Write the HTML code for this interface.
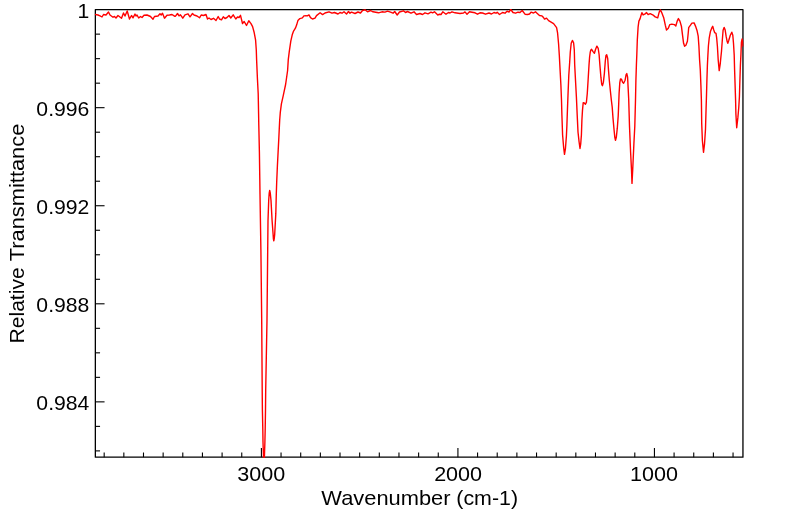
<!DOCTYPE html>
<html>
<head>
<meta charset="utf-8">
<title>IR Spectrum</title>
<style>
html,body{margin:0;padding:0;background:#ffffff;}
body{width:799px;height:516px;overflow:hidden;position:relative;font-family:"Liberation Sans",sans-serif;}
svg{position:absolute;left:0;top:0;display:block;}
text{font-family:"Liberation Sans",sans-serif;fill:#000000;}
</style>
</head>
<body>
<svg width="799" height="516" viewBox="0 0 799 516">
<rect x="0" y="0" width="799" height="516" fill="#ffffff"/>
<defs><clipPath id="plot"><rect x="94.75" y="9.02" width="648.8" height="448.8"/></clipPath></defs>
<g stroke="#000000" stroke-width="1.1" fill="none">
<line x1="104.18" y1="457.2" x2="104.18" y2="452.5"/>
<line x1="123.84" y1="457.2" x2="123.84" y2="452.5"/>
<line x1="143.49" y1="457.2" x2="143.49" y2="452.5"/>
<line x1="163.14" y1="457.2" x2="163.14" y2="452.5"/>
<line x1="182.79" y1="457.2" x2="182.79" y2="452.5"/>
<line x1="202.44" y1="457.2" x2="202.44" y2="452.5"/>
<line x1="222.10" y1="457.2" x2="222.10" y2="452.5"/>
<line x1="241.75" y1="457.2" x2="241.75" y2="452.5"/>
<line x1="261.40" y1="457.2" x2="261.40" y2="448.0"/>
<line x1="281.05" y1="457.2" x2="281.05" y2="452.5"/>
<line x1="300.70" y1="457.2" x2="300.70" y2="452.5"/>
<line x1="320.36" y1="457.2" x2="320.36" y2="452.5"/>
<line x1="340.01" y1="457.2" x2="340.01" y2="452.5"/>
<line x1="359.66" y1="457.2" x2="359.66" y2="452.5"/>
<line x1="379.31" y1="457.2" x2="379.31" y2="452.5"/>
<line x1="398.96" y1="457.2" x2="398.96" y2="452.5"/>
<line x1="418.62" y1="457.2" x2="418.62" y2="452.5"/>
<line x1="438.27" y1="457.2" x2="438.27" y2="452.5"/>
<line x1="457.92" y1="457.2" x2="457.92" y2="448.0"/>
<line x1="477.57" y1="457.2" x2="477.57" y2="452.5"/>
<line x1="497.22" y1="457.2" x2="497.22" y2="452.5"/>
<line x1="516.88" y1="457.2" x2="516.88" y2="452.5"/>
<line x1="536.53" y1="457.2" x2="536.53" y2="452.5"/>
<line x1="556.18" y1="457.2" x2="556.18" y2="452.5"/>
<line x1="575.83" y1="457.2" x2="575.83" y2="452.5"/>
<line x1="595.48" y1="457.2" x2="595.48" y2="452.5"/>
<line x1="615.14" y1="457.2" x2="615.14" y2="452.5"/>
<line x1="634.79" y1="457.2" x2="634.79" y2="452.5"/>
<line x1="654.44" y1="457.2" x2="654.44" y2="448.0"/>
<line x1="674.09" y1="457.2" x2="674.09" y2="452.5"/>
<line x1="693.74" y1="457.2" x2="693.74" y2="452.5"/>
<line x1="713.40" y1="457.2" x2="713.40" y2="452.5"/>
<line x1="733.05" y1="457.2" x2="733.05" y2="452.5"/>
<line x1="95.35" y1="34.14" x2="100.05" y2="34.14"/>
<line x1="95.35" y1="58.65" x2="100.05" y2="58.65"/>
<line x1="95.35" y1="83.17" x2="100.05" y2="83.17"/>
<line x1="95.35" y1="107.68" x2="104.55" y2="107.68"/>
<line x1="95.35" y1="132.20" x2="100.05" y2="132.20"/>
<line x1="95.35" y1="156.71" x2="100.05" y2="156.71"/>
<line x1="95.35" y1="181.23" x2="100.05" y2="181.23"/>
<line x1="95.35" y1="205.74" x2="104.55" y2="205.74"/>
<line x1="95.35" y1="230.26" x2="100.05" y2="230.26"/>
<line x1="95.35" y1="254.77" x2="100.05" y2="254.77"/>
<line x1="95.35" y1="279.29" x2="100.05" y2="279.29"/>
<line x1="95.35" y1="303.80" x2="104.55" y2="303.80"/>
<line x1="95.35" y1="328.32" x2="100.05" y2="328.32"/>
<line x1="95.35" y1="352.83" x2="100.05" y2="352.83"/>
<line x1="95.35" y1="377.35" x2="100.05" y2="377.35"/>
<line x1="95.35" y1="401.86" x2="104.55" y2="401.86"/>
<line x1="95.35" y1="426.38" x2="100.05" y2="426.38"/>
<line x1="95.35" y1="450.89" x2="100.05" y2="450.89"/>
</g>
<rect x="95.35" y="9.62" width="647.6" height="447.6" fill="none" stroke="#000000" stroke-width="1.3" stroke-linejoin="round"/>
<g clip-path="url(#plot)">
<path d="M95.5,14.5 L98.0,15.0 L100.0,15.8 L102.0,17.0 L103.5,14.5 L106.0,15.0 L108.5,12.0 L110.0,15.0 L113.0,17.2 L114.5,16.5 L116.0,18.0 L118.0,15.5 L121.5,18.2 L123.5,13.0 L125.0,16.0 L127.2,11.0 L129.5,19.0 L131.5,15.5 L133.0,17.8 L135.0,14.0 L136.0,16.0 L137.0,15.0 L138.7,18.0 L140.5,16.5 L142.0,17.5 L144.0,15.2 L147.0,15.0 L150.5,16.5 L153.0,19.2 L154.5,16.5 L158.0,16.0 L160.0,13.8 L161.2,15.0 L162.5,13.2 L164.5,18.2 L167.0,15.2 L169.5,15.0 L172.0,14.5 L174.5,16.2 L175.5,16.2 L177.5,13.5 L179.0,15.8 L180.5,14.8 L182.8,18.2 L185.0,14.8 L188.0,13.8 L190.0,16.8 L192.5,13.5 L194.0,15.0 L197.0,16.0 L199.5,17.8 L201.2,15.0 L203.5,15.5 L206.0,14.5 L207.5,19.0 L209.0,18.0 L211.0,19.5 L213.5,18.3 L216.0,20.5 L218.2,16.5 L219.5,19.0 L221.5,19.8 L223.3,16.8 L225.0,18.5 L227.0,17.5 L229.0,15.5 L230.8,18.0 L233.2,14.8 L235.8,19.0 L237.5,17.0 L239.0,17.5 L240.5,15.3 L242.5,23.5 L244.2,21.5 L246.5,25.5 L248.8,20.8 L251.0,23.6 L252.6,26.6 L254.1,32.2 L255.6,40.2 L256.3,50.3 L256.6,59.4 L257.4,78.3 L258.2,93.8 L258.6,113.9 L258.8,125.0 L259.4,152.1 L259.8,179.3 L260.0,194.2 L260.9,250.0 L261.7,320.0 L262.2,390.0 L262.4,410.0 L262.8,429.0 L263.0,442.0 L263.5,457.0 L263.9,470.0 L264.4,457.0 L264.9,442.0 L265.2,429.0 L265.5,410.0 L265.7,390.0 L267.0,320.0 L267.7,250.0 L268.0,220.7 L268.7,200.4 L269.2,193.2 L269.7,190.5 L270.3,193.2 L271.0,200.4 L272.1,220.7 L273.1,234.3 L273.4,238.8 L273.8,240.8 L274.2,238.8 L274.7,234.3 L275.8,213.9 L276.3,194.0 L276.7,182.0 L277.4,165.7 L278.1,152.1 L278.8,138.6 L279.3,128.0 L279.7,120.0 L280.3,112.4 L281.4,103.8 L283.3,95.3 L285.6,84.5 L287.6,70.5 L288.3,59.4 L289.3,51.3 L290.8,41.2 L292.4,34.2 L293.4,31.4 L295.4,28.2 L296.6,25.1 L297.9,20.6 L299.9,18.6 L302.4,17.9 L303.9,15.9 L306.0,15.6 L307.3,15.9 L309.0,14.9 L310.5,17.6 L312.5,19.0 L315.0,18.1 L316.5,15.6 L320.1,12.8 L322.6,14.6 L325.0,13.0 L329.0,11.8 L332.0,13.2 L334.5,12.5 L338.0,14.0 L340.0,12.5 L342.0,13.2 L344.0,11.8 L346.5,14.0 L348.5,11.5 L350.0,13.2 L351.5,12.2 L355.0,13.5 L358.0,12.0 L360.5,13.0 L362.5,10.5 L365.0,9.8 L367.5,11.8 L370.5,10.5 L373.0,11.8 L378.5,12.8 L382.0,11.8 L385.0,12.1 L387.5,11.2 L390.5,12.2 L393.0,13.2 L394.7,11.5 L397.2,15.0 L399.5,12.0 L403.5,10.8 L405.5,12.5 L407.5,11.5 L411.0,13.2 L414.0,11.8 L416.5,14.5 L420.0,13.5 L422.5,14.5 L425.0,12.8 L428.0,13.8 L431.0,12.2 L432.5,12.8 L434.5,11.8 L437.8,15.0 L439.5,14.2 L441.0,14.5 L442.8,11.8 L446.0,14.2 L448.5,12.5 L450.0,13.0 L452.0,11.8 L455.0,12.8 L460.0,13.5 L463.5,13.0 L465.0,11.9 L467.0,14.2 L469.5,11.8 L472.0,12.2 L475.0,12.8 L477.5,14.2 L480.0,12.8 L482.5,13.0 L485.5,14.2 L489.0,13.0 L491.5,14.0 L494.0,12.5 L496.0,13.2 L497.2,12.2 L499.5,14.5 L502.5,12.5 L505.0,13.2 L507.0,11.2 L509.0,12.0 L510.8,9.5 L513.0,12.5 L515.5,13.2 L518.0,12.2 L520.0,12.5 L522.2,10.5 L525.0,14.2 L527.5,14.5 L529.5,14.0 L531.0,12.2 L533.5,13.0 L535.5,11.8 L537.0,13.2 L539.5,15.5 L542.0,15.9 L543.5,17.5 L544.5,19.1 L546.5,18.1 L548.6,20.6 L551.1,22.1 L553.6,23.6 L555.1,25.6 L556.6,27.6 L557.6,33.2 L558.6,44.3 L559.3,55.0 L560.1,70.1 L560.9,85.2 L561.5,100.3 L561.9,115.1 L562.6,135.0 L563.6,147.0 L564.5,154.4 L565.4,149.0 L566.4,136.0 L566.9,125.2 L567.5,108.0 L568.0,95.0 L568.8,75.2 L569.7,62.0 L570.3,52.0 L571.2,43.3 L572.4,40.4 L573.6,42.8 L574.3,50.0 L574.7,65.0 L575.5,80.2 L576.4,97.0 L577.2,115.1 L578.0,132.0 L579.1,142.0 L580.0,148.5 L580.7,144.0 L581.4,135.0 L581.9,120.2 L582.5,110.1 L583.2,102.8 L584.3,103.0 L585.4,104.2 L586.4,102.3 L587.3,93.3 L588.1,80.2 L589.0,65.1 L589.6,57.0 L590.2,52.5 L590.7,50.3 L591.6,49.3 L592.9,51.3 L594.4,53.3 L595.6,49.3 L596.9,46.1 L598.2,48.3 L599.1,54.5 L599.9,65.1 L600.9,77.2 L601.7,84.2 L602.4,85.7 L603.4,82.2 L604.4,73.1 L605.3,61.0 L606.0,55.4 L606.7,54.7 L607.7,58.5 L608.5,70.1 L609.3,80.2 L610.3,90.3 L611.3,99.8 L612.2,107.0 L613.0,118.1 L614.0,129.2 L614.8,137.3 L615.5,140.3 L616.3,137.3 L617.3,128.2 L618.2,116.1 L618.7,104.0 L619.1,93.3 L619.8,82.6 L620.5,79.0 L621.5,79.2 L622.6,82.2 L623.6,83.2 L625.1,80.2 L626.1,74.6 L626.8,73.6 L627.6,77.2 L628.1,87.2 L628.7,99.0 L629.5,126.2 L630.6,152.3 L631.5,169.8 L632.0,183.4 L632.7,169.8 L633.9,143.6 L634.8,126.2 L635.5,100.0 L635.9,80.2 L636.4,65.1 L636.8,55.0 L637.3,40.3 L638.1,27.2 L638.9,21.1 L640.1,18.6 L641.1,15.1 L641.9,12.6 L643.1,14.9 L645.1,13.9 L646.6,12.6 L648.1,14.6 L650.2,13.6 L652.7,14.8 L655.2,16.9 L657.7,17.9 L659.2,12.1 L660.4,9.8 L661.7,12.6 L663.8,18.1 L665.3,25.2 L666.5,30.0 L668.3,28.2 L669.8,24.6 L671.8,24.1 L674.3,24.6 L675.8,26.0 L677.2,21.1 L678.4,18.6 L679.9,21.1 L681.4,26.2 L682.4,34.2 L683.6,43.3 L684.6,46.3 L685.9,45.3 L687.4,41.3 L688.2,33.2 L688.7,27.7 L690.5,25.2 L691.9,23.1 L694.1,22.9 L695.5,26.1 L697.0,30.4 L698.2,36.2 L698.9,46.0 L699.6,60.0 L700.3,70.1 L700.9,85.2 L701.4,100.4 L701.7,123.3 L702.4,140.7 L703.5,152.3 L704.5,144.2 L705.5,129.1 L706.1,108.0 L706.5,95.3 L706.9,80.2 L707.4,65.1 L707.9,55.0 L708.4,46.0 L709.2,38.2 L710.5,31.2 L711.7,28.2 L712.7,26.3 L713.7,29.7 L714.7,32.7 L716.0,33.4 L716.7,38.2 L717.4,46.3 L718.2,60.0 L719.2,70.6 L720.2,64.1 L721.0,56.0 L721.5,51.3 L722.3,40.3 L723.1,30.2 L724.1,27.4 L725.1,29.7 L726.1,36.2 L727.1,41.3 L727.8,43.3 L728.8,40.3 L730.3,35.2 L731.8,32.2 L732.8,35.2 L733.5,43.3 L734.2,55.0 L734.6,70.1 L735.1,85.2 L735.6,100.4 L735.9,114.0 L736.7,127.7 L737.9,117.4 L738.8,107.0 L739.4,97.0 L739.9,80.2 L740.4,65.1 L740.9,55.0 L741.4,42.3 L742.1,39.0 L742.6,41.0 L743.0,46.0" fill="none" stroke="#ff0000" stroke-width="1.4" stroke-linejoin="round" stroke-linecap="round"/>
</g>
<g font-size="20px" opacity="0.999">
<text transform="translate(89.4,18) scale(1.06,1)" text-anchor="end">1</text>
<text transform="translate(89.4,115.8) scale(1.06,1)" text-anchor="end">0.996</text>
<text transform="translate(89.4,213.8) scale(1.06,1)" text-anchor="end">0.992</text>
<text transform="translate(89.4,311.8) scale(1.06,1)" text-anchor="end">0.988</text>
<text transform="translate(89.4,409.8) scale(1.06,1)" text-anchor="end">0.984</text>
<text transform="translate(261.2,481) scale(1.078,1)" text-anchor="middle">3000</text>
<text transform="translate(458.1,481) scale(1.078,1)" text-anchor="middle">2000</text>
<text transform="translate(654.0,481) scale(1.078,1)" text-anchor="middle">1000</text>
<text transform="translate(321.3,504.7) scale(1.094,1)" text-anchor="start">Wavenumber</text>
<text transform="translate(518.0,504.7) scale(1.068,1)" text-anchor="end">(cm-1)</text>
<text transform="translate(24.2,343.4) rotate(-90) scale(1.053,1)" text-anchor="start">Relative</text>
<text transform="translate(24.2,123.6) rotate(-90) scale(1.094,1)" text-anchor="end">Transmittance</text>
</g>
</svg>
</body>
</html>
